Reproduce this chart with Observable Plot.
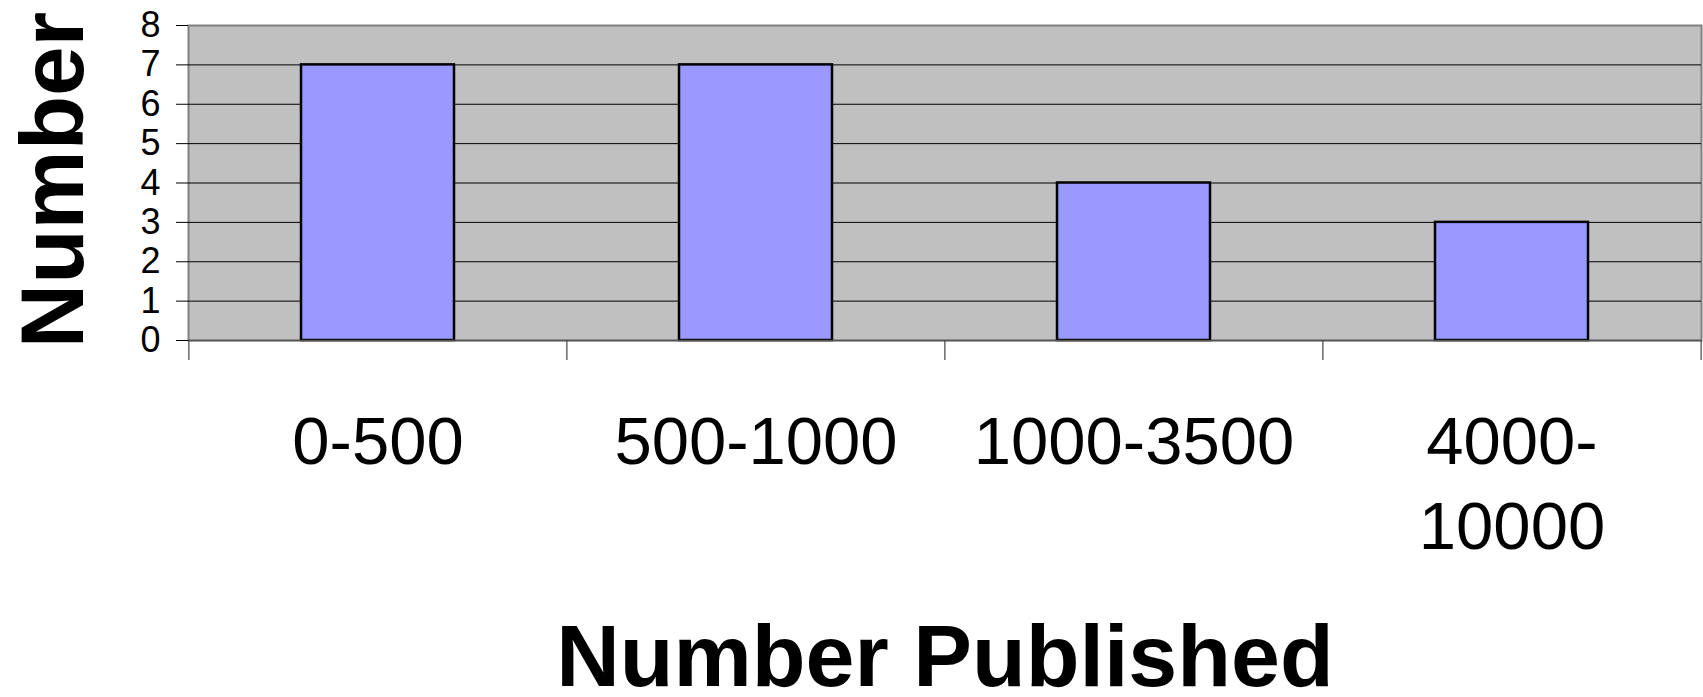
<!DOCTYPE html>
<html>
<head>
<meta charset="utf-8">
<script src="https://cdn.jsdelivr.net/npm/d3@7"></script>
<script src="https://cdn.jsdelivr.net/npm/@observablehq/plot@0.6"></script>
<style>
  html, body { margin: 0; padding: 0; background: #fff; overflow: hidden; }
  #chart svg { display: block; }
</style>
</head>
<body>
<div id="chart"></div>
<script>
// Data
const categories = ["0-500", "500-1000", "1000-3500", "4000-\n10000"];
const counts = [7, 7, 4, 3];
const yTicks = [0, 1, 2, 3, 4, 5, 6, 7, 8];
const gridValues = [1, 2, 3, 4, 5, 6, 7];
const xTitle = "Number Published";
const yTitle = "Number";

const data = categories.map((c, i) => ({cat: c, n: counts[i]}));

const W = 1703, H = 697;
const mL = 188, mR = 2, mT = 25, mB = 357;
const step = (W - mL - mR) / categories.length;
const font = "'Liberation Sans', Arial, Helvetica, sans-serif";

const chart = Plot.plot({
  width: W,
  height: H,
  marginLeft: mL,
  marginRight: mR,
  marginTop: mT,
  marginBottom: mB,
  style: {fontFamily: font, background: "white", color: "black", overflow: "visible"},
  x: {type: "band", domain: categories, paddingInner: 0.595, paddingOuter: 0.2977, align: 0.5, axis: null},
  y: {domain: [0, 8], axis: null},
  marks: [
    Plot.frame({fill: "#c0c0c0", stroke: "#808080", strokeWidth: 2}),
    Plot.ruleY(gridValues, {stroke: "#000", strokeWidth: 1}),
    Plot.barY(data, {x: "cat", y: "n", fill: "#9999ff", stroke: "#000", strokeWidth: 2.5}),
    Plot.ruleY([0], {stroke: "#555", strokeWidth: 1.5}),
    Plot.axisY({ticks: yTicks, tickSize: 12, tickPadding: 16, fontSize: 36, stroke: "#000", label: null}),
    // category boundary ticks
    Plot.ruleX(categories, {x: d => d, dx: -step / 2, y1: 0, y2: 0, insetBottom: -20, stroke: "#444", strokeWidth: 1.2}),
    Plot.ruleX(categories.slice(-1), {x: d => d, dx: step / 2, y1: 0, y2: 0, insetBottom: -20, stroke: "#444", strokeWidth: 1.2}),
    // category labels
    Plot.text(categories, {x: d => d, frameAnchor: "bottom", lineAnchor: "top", dy: 63, fontSize: 67, lineHeight: 1.27, fill: "#000", text: d => d}),
    // axis titles
    Plot.text([xTitle], {frameAnchor: "bottom", lineAnchor: "bottom", dy: 345, fontSize: 88, fontWeight: "bold", fill: "#000", text: d => d}),
    Plot.text([yTitle], {frameAnchor: "left", textAnchor: "middle", lineAnchor: "bottom", rotate: -90, dx: -106, dy: -3, fontSize: 89, fontWeight: "bold", fill: "#000", text: d => d})
  ]
});

document.getElementById("chart").appendChild(chart);
</script>
</body>
</html>
